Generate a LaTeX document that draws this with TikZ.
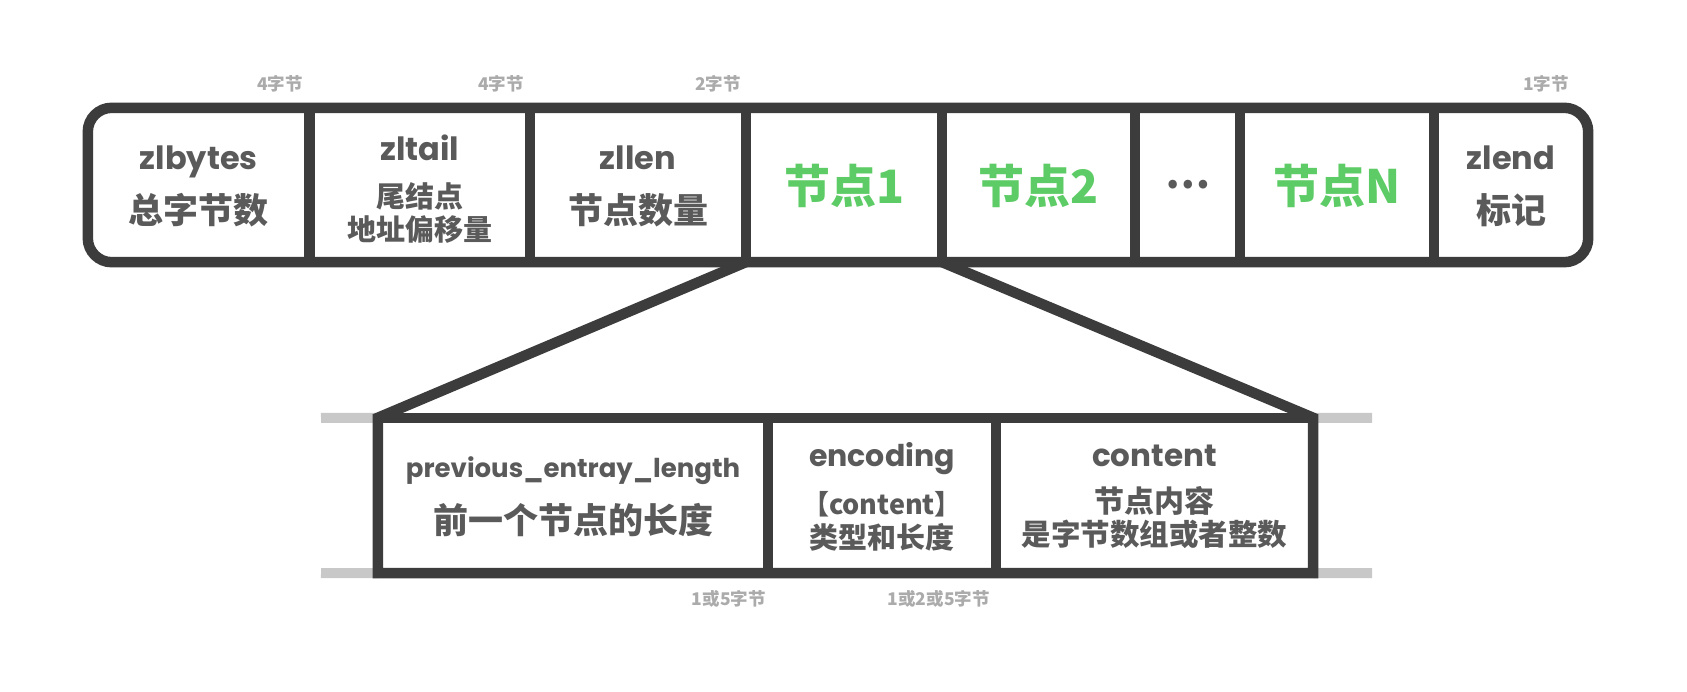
\documentclass[tikz,border=0pt]{standalone}
\usepackage{fontspec}
\newfontfamily\cjk{Noto Sans CJK SC}
\newfontfamily\latinf{Poppins}
\definecolor{framec}{HTML}{3C3C3C}
\definecolor{txtc}{HTML}{5A5A5A}
\definecolor{greenc}{HTML}{5ECC66}
\definecolor{lblc}{HTML}{ABABAB}
\definecolor{barc}{HTML}{C8C8C8}
\newcommand\LT[2]{{\latinf\bfseries\fontsize{#1}{#1}\selectfont #2}}
\newcommand\CJ[2]{{\cjk\bfseries\fontsize{#1}{#1}\selectfont #2}}
\begin{document}
\begin{tikzpicture}[x=1pt,y=-1pt]
\tikzset{
 cell/.style={rectangle, inner sep=0pt, minimum height=154pt},
 pcell/.style={rectangle, inner sep=0pt, minimum height=155pt},
 txt/.style={inner sep=0pt, align=center, text=txtc},
 small/.style={inner sep=0pt, text=lblc, font=\cjk\bfseries\fontsize{17.5pt}{17.5pt}\selectfont, anchor=east},
 big/.style={inner sep=0pt, text=greenc, font=\cjk\bfseries\fontsize{46pt}{46pt}\selectfont},
 frame/.style={draw=framec, line width=10.5pt},
 bar/.style={draw=barc, line width=10pt},
}
\fill[white] (0,0) rectangle (1687,692);
\useasboundingbox (0,0) rectangle (1687,692);

% top cells
\node[cell, minimum width=221.5pt] (c1) at (198.75,185) {};
\node[cell, minimum width=220.5pt] (c2) at (419.75,185) {};
\node[cell, minimum width=216pt] (c3) at (638,185) {};
\node[cell, minimum width=196pt] (c4) at (844,185) {};
\node[cell, minimum width=193pt] (c5) at (1038.5,185) {};
\node[cell, minimum width=105pt] (c6) at (1187.5,185) {};
\node[cell, minimum width=194pt] (c7) at (1337,185) {};
\node[cell, minimum width=154pt] (c8) at (1511,185) {};

% bottom cells
\node[pcell, minimum width=390pt] (p1) at (573,495.5) {};
\node[pcell, minimum width=228pt] (p2) at (882,495.5) {};
\node[pcell, minimum width=317pt] (p3) at (1154.5,495.5) {};

% grey bars
\coordinate (bl1) at (321,418);
\coordinate (bl2) at (321,573);
\coordinate (br1) at (1372,418);
\coordinate (br2) at (1372,573);
\draw[bar] (bl1) -- (p1.north west);
\draw[bar] (bl2) -- (p1.south west);
\draw[bar] (br1) -- (p3.north east);
\draw[bar] (br2) -- (p3.south east);

% top frame
\draw[frame, rounded corners=24pt] (c1.north west) rectangle (c8.south east);
\foreach \a in {c1,c2,c3,c4,c5,c6,c7}
  \draw[frame] (\a.north east) -- (\a.south east);

% bottom frame and zoom lines
\draw[frame, line join=miter] (c4.south west) -- (p1.north west) -- (p1.south west)
  -- (p3.south east) -- (p3.north east) -- (c4.south east);
\draw[frame] (p1.north west) -- (p3.north east);
\draw[frame] (p1.north east) -- (p1.south east);
\draw[frame] (p2.north east) -- (p2.south east);

% texts top
\node[txt, font=\fontsize{10pt}{54pt}\selectfont] (t1) at (198.75,186.5) {\LT{32pt}{zlbytes}\\\CJ{35pt}{总字节数}};
\node[txt, font=\fontsize{10pt}{33pt}\selectfont] (t2) at (419.75,189) {\LT{32pt}{zltail}\\[14pt]\CJ{29pt}{尾结点}\\\CJ{29pt}{地址偏移量}};
\node[txt, font=\fontsize{10pt}{54pt}\selectfont] (t3) at (638,186.5) {\LT{32pt}{zllen}\\\CJ{35pt}{节点数量}};
\node[big] (t4) at (844,186) {节点1};
\node[big] (t5) at (1038.5,186) {节点2};
\node[txt, font=\cjk\bfseries\fontsize{40pt}{40pt}\selectfont] (t6) at (1187.5,185) {…};
\node[big] (t7) at (1337,186) {节点N};
\node[txt, font=\fontsize{10pt}{54pt}\selectfont] (t8) at (1511,186.5) {\LT{32pt}{zlend}\\\CJ{35pt}{标记}};

% texts bottom
\node[txt, font=\fontsize{10pt}{56pt}\selectfont] (u1) at (573,497) {\LT{26pt}{previous\_entray\_length}\\\CJ{35pt}{前一个节点的长度}};
\node[txt, font=\fontsize{10pt}{34.5pt}\selectfont] (u2) at (882,497) {\LT{30pt}{encoding}\\[13pt]\CJ{27pt}{【content】}\\\CJ{29pt}{类型和长度}};
\node[txt, font=\fontsize{10pt}{33.6pt}\selectfont] (u3) at (1154.5,497) {\LT{31pt}{content}\\[12pt]\CJ{30pt}{节点内容}\\\CJ{29.5pt}{是字节数组或者整数}};

% size labels
\node[small] (s1) at (303,84) {4字节};
\node[small] (s2) at (524,84) {4字节};
\node[small] (s3) at (741,84) {2字节};
\node[small] (s4) at (1569,84) {1字节};
\node[small] (s5) at (766,599) {1或5字节};
\node[small] (s6) at (990,599) {1或2或5字节};
\end{tikzpicture}
\end{document}
